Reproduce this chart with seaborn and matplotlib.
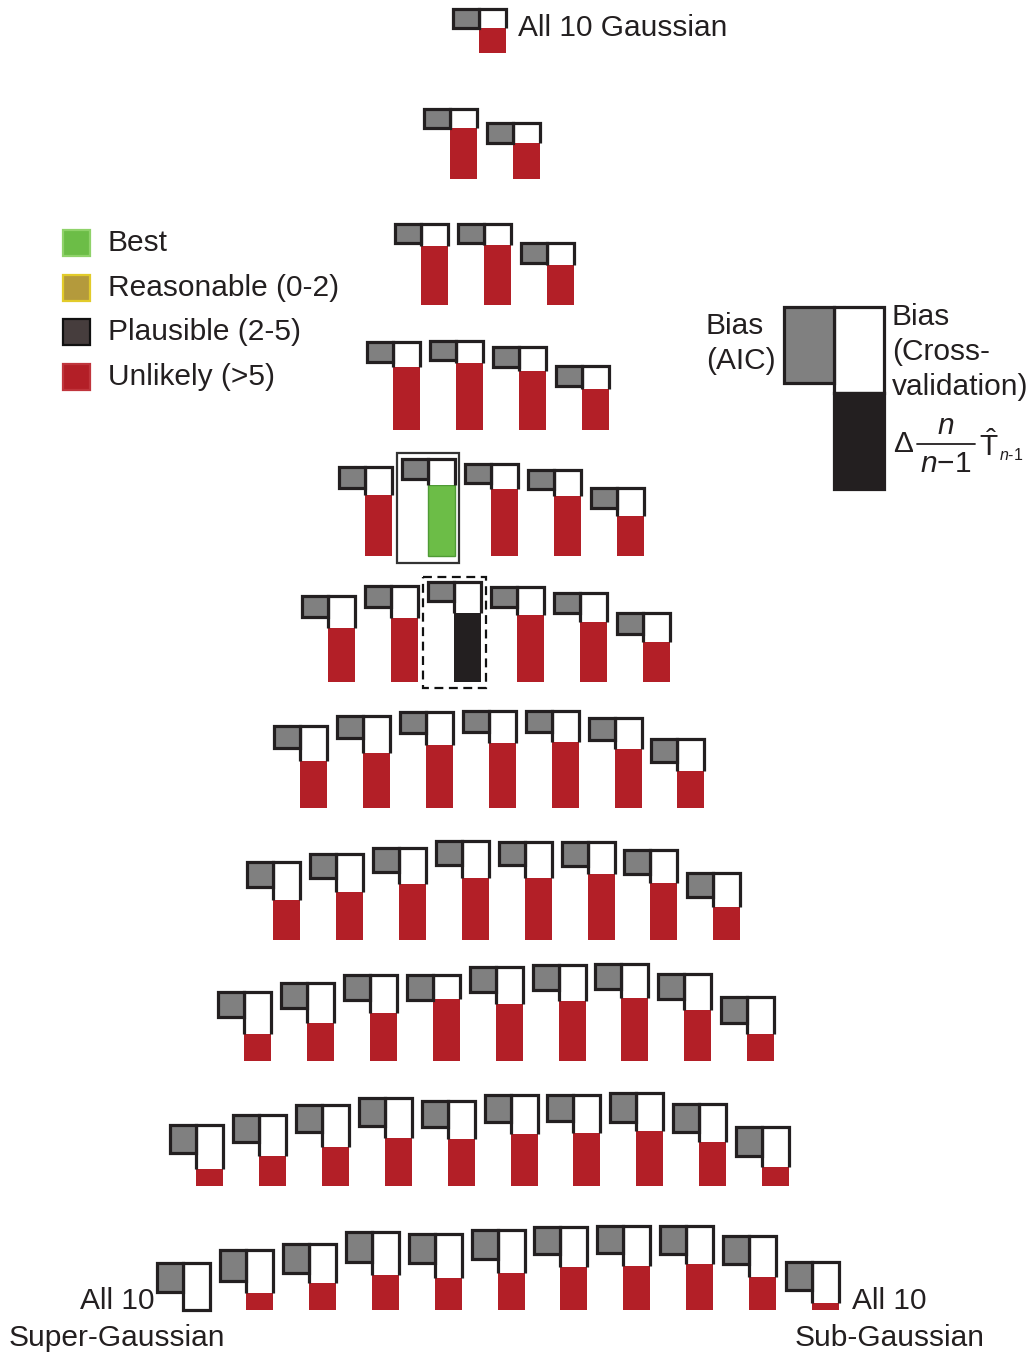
import matplotlib
matplotlib.use("Agg")
import matplotlib.pyplot as plt
from matplotlib.patches import Rectangle
from matplotlib.lines import Line2D
import seaborn as sns

# ---- data: one list per row, row k holds k non-Gaussian sources ----
# (left = more super-Gaussian, right = more sub-Gaussian)
aic_bias = [
    [19],
    [19, 20],
    [19, 19, 20],
    [20, 19, 20, 20],
    [21, 20, 19, 19, 20],
    [21, 21, 19, 20, 20, 21],
    [22, 22, 21, 21, 21, 22, 23],
    [25, 24, 24, 24, 23, 24, 24, 24],
    [25, 25, 25, 25, 25, 25, 25, 25, 26],
    [28, 27, 27, 28, 26, 27, 26, 29, 28, 29],
    [29, 31, 29, 30, 29, 29, 27, 27, 28, 28, 28],
]
cv_bias = [
    [19],
    [19, 20],
    [22, 21, 22],
    [25, 22, 24, 23],
    [28, 26, 25, 26, 28],
    [32, 32, 31, 28, 29, 29],
    [35, 37, 33, 32, 31, 31, 32],
    [38, 38, 36, 37, 36, 32, 33, 34],
    [42, 40, 38, 24, 37, 36, 34, 36, 37],
    [44, 41, 42, 40, 38, 39, 38, 38, 38, 40],
    [47, 43, 39, 43, 44, 43, 40, 40, 38, 41, 41],
]
delta_t = [
    [25],
    [51, 36],
    [59, 60, 40],
    [63, 67, 59, 41],
    [61, 71, 67, 60, 40],
    [54, 64, 69, 67, 60, 40],
    [47, 55, 63, 65, 66, 59, 37],
    [40, 48, 56, 62, 62, 66, 57, 33],
    [27, 38, 48, 62, 57, 60, 63, 51, 27],
    [17, 30, 39, 48, 47, 52, 53, 55, 44, 19],
    [0, 17, 27, 35, 32, 37, 43, 44, 46, 33, 7],
]
# rating of each model: B = best, R = reasonable, P = plausible, U = unlikely
status = [
    "U",
    "UU",
    "UUU",
    "UUUU",
    "UBUUU",
    "UUPUUU",
    "UUUUUUU",
    "UUUUUUUU",
    "UUUUUUUUU",
    "UUUUUUUUUU",
    "UUUUUUUUUUU",
]
legend_labels = ["Best", "Reasonable (0-2)", "Plausible (2-5)", "Unlikely (>5)"]
legend_keys = ["B", "R", "P", "U"]

# ---- styling / layout ----
sns.set_theme(style="white")
plt.rcParams["font.family"] = ["Liberation Sans", "DejaVu Sans"]
plt.rcParams["mathtext.fontset"] = "custom"
plt.rcParams["mathtext.rm"] = "Liberation Sans"
plt.rcParams["mathtext.it"] = "Liberation Sans:italic"
plt.rcParams["mathtext.bf"] = "Liberation Sans:bold"

pal = sns.color_palette(["#6cbd47", "#b49a3c", "#463d3d", "#b31f27"])
bar_colors = {"B": pal[0], "R": pal[1], "P": "#231f20", "U": pal[3]}
leg_fill = dict(zip(legend_keys, pal))
leg_edge = {"B": "#8fd26a", "R": "#e2cb2a", "P": "#111111", "U": "#c0353c"}
INK = "#231f20"
GRAY = "#808080"
TXT = "#231f20"
FS = 21.5

row_base = [53, 179, 305, 430, 556, 682, 808, 940, 1061, 1186, 1310]
row_x0 = [453, 424, 395, 367, 339, 302, 274, 247, 218, 170, 157]
pitch = 62.9
gw, ww = 26, 27          # widths of the AIC box and the cross-validation box
lw = 3.2 * 0.72          # outline width, points

fig = plt.figure(figsize=(10.32, 13.54), dpi=100)
ax = fig.add_axes([0, 0, 1, 1])
ax.set_xlim(0, 1032)
ax.set_ylim(1354, 0)
ax.axis("off")


def glyph(x0, base, g, w, b, color, edge_bar=None):
    top = base - (w + b)
    xw = x0 + gw
    # coloured bar (Delta term) standing on the row baseline
    if b > 0:
        ax.bar(xw + ww / 2, b, bottom=base - b, width=ww, color=color,
               edgecolor=edge_bar if edge_bar else color,
               linewidth=1.0 if edge_bar else 0, zorder=2)
    # cross-validation bias box
    ax.add_patch(Rectangle((xw, top), ww, w, facecolor="white",
                           edgecolor="none", zorder=3))
    if b > 0:
        xs = [xw, xw, xw + ww, xw + ww]
        ys = [top + w, top, top, top + w]
        ax.add_line(Line2D(xs, ys, color=INK, lw=lw, solid_joinstyle="miter",
                           solid_capstyle="butt", zorder=4))
    else:
        ax.add_patch(Rectangle((xw, top), ww, w, facecolor="none",
                               edgecolor=INK, lw=lw, joinstyle="miter", zorder=4))
    # AIC bias box
    ax.add_patch(Rectangle((x0, top), gw, g, facecolor=GRAY, edgecolor=INK,
                           lw=lw, joinstyle="miter", zorder=5))
    return top


for k in range(len(row_base)):
    for j in range(len(status[k])):
        x0 = row_x0[k] + j * pitch
        s = status[k][j]
        col = bar_colors[s]
        eb = "#4f9a35" if s == "B" else None
        top = glyph(x0, row_base[k], aic_bias[k][j], cv_bias[k][j],
                    delta_t[k][j], col, edge_bar=eb)
        if s == "B":
            ax.add_patch(Rectangle((x0 - 5, top - 6), gw + ww + 9,
                                   row_base[k] - top + 13, facecolor="none",
                                   edgecolor="#333333", lw=1.6, zorder=6))
        elif s == "P":
            ax.add_patch(Rectangle((x0 - 5, top - 5), gw + ww + 10,
                                   row_base[k] - top + 11, facecolor="none",
                                   edgecolor="#111111", lw=1.6,
                                   linestyle=(0, (4, 2.5)), zorder=6))

# ---- legend ----
for i, (key, lab) in enumerate(zip(legend_keys, legend_labels)):
    yc = 243 + i * 44.7
    ax.add_patch(Rectangle((63, yc - 13), 27, 26, facecolor=leg_fill[key],
                           edgecolor=leg_edge[key], lw=1.6, zorder=3))
    ax.text(108, yc, lab, fontsize=FS, color=TXT, va="center", ha="left")

# ---- explanatory key ----
ax.add_patch(Rectangle((784, 307), 50, 76, facecolor=GRAY, edgecolor=INK,
                       lw=lw, zorder=5))
ax.add_patch(Rectangle((834, 307), 50, 86, facecolor="white", edgecolor=INK,
                       lw=lw, zorder=4))
ax.add_patch(Rectangle((834, 393), 50, 96, facecolor="#231f20", edgecolor=INK,
                       lw=lw, zorder=4))
ax.text(706, 326, "Bias", fontsize=FS, color=TXT, va="center", ha="left")
ax.text(706, 361, "(AIC)", fontsize=FS, color=TXT, va="center", ha="left")
ax.text(892, 317, "Bias", fontsize=FS, color=TXT, va="center", ha="left")
ax.text(892, 352, "(Cross-", fontsize=FS, color=TXT, va="center", ha="left")
ax.text(892, 387, "validation)", fontsize=FS, color=TXT, va="center", ha="left")

# Delta n/(n-1) T_(n-1) label, laid out piece by piece
ax.text(893, 444, "\u0394", fontsize=FS, color=TXT, va="center", ha="left")
ax.text(946, 426, r"$n$", fontsize=FS, color=TXT, va="center", ha="center")
ax.add_line(Line2D([917, 975], [444, 444], color=TXT, lw=1.3))
ax.text(946, 464, r"$n$" + "\u22121", fontsize=FS, color=TXT, va="center",
        ha="center")
ax.text(979, 446, r"$\hat{\mathrm{T}}$", fontsize=FS, color=TXT, va="center",
        ha="left")
ax.text(999, 455, r"$n$" + "-1", fontsize=11.5, color=TXT, va="center",
        ha="left")

# ---- end labels ----
ax.text(518, 28, "All 10 Gaussian", fontsize=FS, color=TXT, va="center", ha="left")
ax.text(155, 1301, "All 10", fontsize=FS, color=TXT, va="center", ha="right")
ax.text(117, 1338, "Super-Gaussian", fontsize=FS, color=TXT, va="center", ha="center")
ax.text(852, 1301, "All 10", fontsize=FS, color=TXT, va="center", ha="left")
ax.text(890, 1338, "Sub-Gaussian", fontsize=FS, color=TXT, va="center", ha="center")

fig.savefig("out.png", dpi=100, facecolor="white")
